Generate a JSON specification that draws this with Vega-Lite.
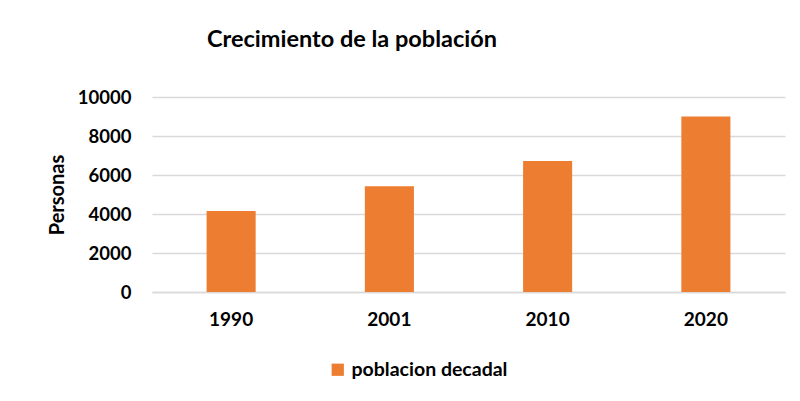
{
  "$schema": "https://vega.github.io/schema/vega-lite/v6.json",
  "autosize": "none",
  "width": 633,
  "height": 195,
  "padding": {"left": 152, "top": 97, "right": 15, "bottom": 109},
  "background": "#ffffff",
  "title": {
    "text": "Crecimiento de la población",
    "anchor": "start",
    "frame": "group",
    "dx": 55,
    "offset": 37,
    "font": "Lato",
    "fontSize": 23.5,
    "fontWeight": "bold",
    "color": "#000000"
  },
  "data": {
    "values": [
      {"anio": "1990", "poblacion": 4150, "serie": "poblacion decadal"},
      {"anio": "2001", "poblacion": 5420, "serie": "poblacion decadal"},
      {"anio": "2010", "poblacion": 6720, "serie": "poblacion decadal"},
      {"anio": "2020", "poblacion": 9000, "serie": "poblacion decadal"}
    ]
  },
  "mark": {"type": "bar", "color": "#ED7D31"},
  "encoding": {
    "x": {
      "field": "anio",
      "type": "ordinal",
      "sort": null,
      "scale": {"paddingInner": 0.69, "paddingOuter": 0.345},
      "axis": {
        "title": null,
        "labelAngle": 0,
        "labelFont": "Lato",
        "labelFontSize": 19,
        "labelFontWeight": "bold",
        "labelColor": "#000000",
        "labelPadding": 18,
        "ticks": false,
        "domainColor": "#d9d9d9",
        "domainWidth": 1.5
      }
    },
    "y": {
      "field": "poblacion",
      "type": "quantitative",
      "scale": {"domain": [0, 10000], "nice": false},
      "axis": {
        "title": "Personas",
        "titleFont": "Lato",
        "titleFontSize": 20,
        "titleFontWeight": "bold",
        "titleColor": "#000000",
        "titlePadding": 10,
        "values": [0, 2000, 4000, 6000, 8000, 10000],
        "format": "d",
        "labelFont": "Lato",
        "labelFontSize": 18.5,
        "labelFontWeight": "bold",
        "labelColor": "#000000",
        "labelPadding": 21,
        "ticks": false,
        "domain": false,
        "grid": true,
        "gridColor": "#d9d9d9",
        "gridWidth": 1.5
      }
    },
    "fill": {
      "field": "serie",
      "type": "nominal",
      "scale": {"range": ["#ED7D31"]},
      "legend": {
        "title": null,
        "orient": "none",
        "legendX": 176,
        "legendY": 263,
        "symbolType": "square",
        "symbolSize": 150,
        "symbolStrokeWidth": 0,
        "labelFont": "Lato",
        "labelFontSize": 19.5,
        "labelFontWeight": "bold",
        "labelColor": "#000000",
        "labelOffset": 4
      }
    }
  },
  "config": {"view": {"stroke": null}}
}
